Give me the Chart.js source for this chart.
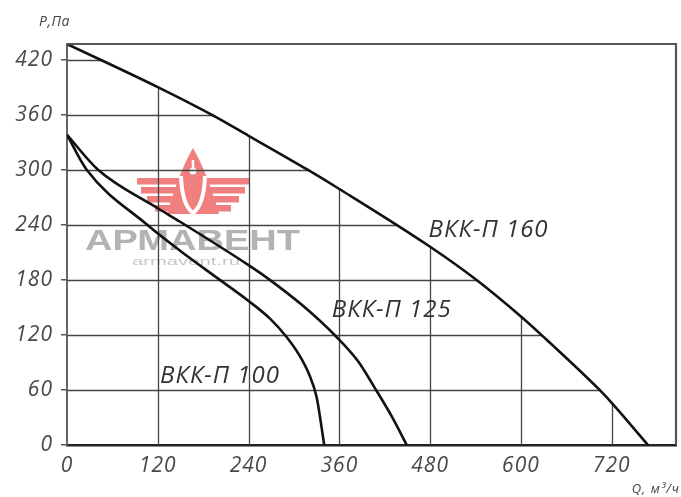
<!DOCTYPE html>
<html>
<head>
<meta charset="utf-8">
<title>ВКК-П</title>
<script src="https://cdn.jsdelivr.net/npm/chart.js@4/dist/chart.umd.min.js"></script>
<style>
  html, body { margin: 0; padding: 0; background: #fff; }
  #wrap { width: 681px; height: 497px; }
</style>
</head>
<body>
<div id="wrap"><canvas id="chart" width="681" height="497"></canvas></div>
<script>
// Axis ticks
const flowTicks = [0, 120, 240, 360, 480, 600, 720];
const pressureTicks = [0, 60, 120, 180, 240, 300, 360, 420];

// Fan curves: Q (m³/h) against P (Pa)
const q160 = [0, 120, 191, 240, 318, 360, 480, 541, 600, 627, 704, 720, 768];
const p160 = [437, 390, 360, 337, 300, 279, 216, 180, 140, 120, 60, 46, 0];

const q125 = [0, 41, 120, 150, 240, 268, 310, 356, 385, 407, 430, 449];
const p125 = [338, 300, 258, 243, 196, 180, 153, 118, 91, 62, 30, 0];

const q100 = [0, 26, 106, 149, 202, 240, 268, 290, 307, 320, 330, 340];
const p100 = [338, 300, 240, 212, 180, 157, 138, 118, 98, 77, 52, 0];

const curveNames = ['ВКК-П 160', 'ВКК-П 125', 'ВКК-П 100'];

// Where each curve name sits, in axis units (left edge, baseline)
const nameSpots = [
  { q: 478, p: 227 },
  { q: 350, p: 140 },
  { q: 123, p: 68 }
];

const FONT = '"Open Sans", "DejaVu Sans", sans-serif';

function points(qs, ps) {
  return qs.map((q, i) => ({ x: q, y: ps[i] }));
}

function curve(qs, ps) {
  return {
    data: points(qs, ps),
    borderColor: '#111',
    borderWidth: 2.6,
    pointRadius: 0,
    cubicInterpolationMode: 'monotone',
    fill: false
  };
}

// Brand mark drawn faintly behind the grid
function drawBrand(ctx) {
  const cx = 193;
  ctx.save();
  ctx.letterSpacing = '0px';
  ctx.fillStyle = 'rgb(240,128,128)';
  // wings
  const rows = [[178, 137], [187, 141], [196, 147], [205, 155]];
  for (const [yy, xo] of rows) {
    ctx.fillRect(xo, yy, cx - 10 - xo, 6.5);
    ctx.fillRect(cx + 10, yy, (2 * cx - xo) - (cx + 10), 6.5);
  }
  // central peak
  ctx.beginPath();
  ctx.moveTo(cx, 148);
  ctx.quadraticCurveTo(cx + 14, 172, cx + 26, 214);
  ctx.lineTo(cx - 26, 214);
  ctx.quadraticCurveTo(cx - 14, 172, cx, 148);
  ctx.closePath();
  ctx.fill();
  // white inner drop
  ctx.strokeStyle = '#fff';
  ctx.fillStyle = '#fff';
  ctx.lineWidth = 2.5;
  ctx.beginPath();
  ctx.moveTo(cx, 160);
  ctx.lineTo(cx, 168);
  ctx.stroke();
  ctx.beginPath();
  ctx.arc(cx, 171, 3.5, 0, Math.PI * 2);
  ctx.fill();
  ctx.lineWidth = 4;
  ctx.beginPath();
  ctx.moveTo(cx - 12, 176);
  ctx.quadraticCurveTo(cx - 11, 205, cx, 213);
  ctx.quadraticCurveTo(cx + 11, 205, cx + 12, 176);
  ctx.stroke();

  // name
  ctx.fillStyle = '#b3b3b3';
  ctx.font = 'bold 30px "Liberation Sans", Arial, sans-serif';
  ctx.textBaseline = 'alphabetic';
  ctx.textAlign = 'center';
  const word = 'АРМАВЕНТ';
  const w = ctx.measureText(word).width;
  ctx.save();
  ctx.translate(192.5, 250);
  ctx.scale(215 / w, 1);
  ctx.fillText(word, 0, 0);
  ctx.restore();

  ctx.fillStyle = '#c6c6c6';
  ctx.font = '11px "Liberation Sans", Arial, sans-serif';
  const site = 'armavent.ru';
  const sw = ctx.measureText(site).width;
  ctx.save();
  ctx.translate(186, 265);
  ctx.scale(108 / sw, 1);
  ctx.fillText(site, 0, 0);
  ctx.restore();
  ctx.restore();
}

// Grid only under the largest curve
const underCurveGrid = {
  id: 'underCurveGrid',
  beforeDraw(chart) {
    // slightly airy lettering for the axis numbers
    chart.ctx.letterSpacing = '1px';
  },
  beforeDatasetsDraw(chart) {
    const { ctx, chartArea: a, scales: { x, y } } = chart;
    drawBrand(ctx);
    const line = chart.getDatasetMeta(0).dataset;
    ctx.save();
    if (line.updateControlPoints) line.updateControlPoints(a, 'x');
    ctx.beginPath();
    line.path(ctx);
    ctx.lineTo(x.getPixelForValue(0), y.getPixelForValue(0));
    ctx.closePath();
    ctx.clip();
    ctx.strokeStyle = '#454545';
    ctx.lineWidth = 1.3;
    for (const v of pressureTicks) {
      if (v === 0) continue;
      const py = Math.round(y.getPixelForValue(v)) + 0.5;
      ctx.beginPath();
      ctx.moveTo(a.left, py);
      ctx.lineTo(a.right, py);
      ctx.stroke();
    }
    for (const v of flowTicks) {
      if (v === 0) continue;
      const px = Math.round(x.getPixelForValue(v)) + 0.5;
      ctx.beginPath();
      ctx.moveTo(px, a.top);
      ctx.lineTo(px, a.bottom);
      ctx.stroke();
    }
    ctx.restore();
  },
  afterDatasetsDraw(chart) {
    const { ctx, chartArea: a, scales: { x, y } } = chart;
    ctx.save();
    // frame: top and right edges
    ctx.strokeStyle = '#555';
    ctx.lineWidth = 2.2;
    ctx.beginPath();
    ctx.moveTo(a.left, a.top);
    ctx.lineTo(a.right, a.top);
    ctx.lineTo(a.right, a.bottom);
    ctx.stroke();

    // curve names
    ctx.fillStyle = '#333';
    ctx.font = 'italic 24px ' + FONT;
    ctx.letterSpacing = '1px';
    ctx.textAlign = 'left';
    ctx.textBaseline = 'alphabetic';
    curveNames.forEach((name, i) => {
      ctx.fillText(name, x.getPixelForValue(nameSpots[i].q), y.getPixelForValue(nameSpots[i].p));
    });

    // axis titles
    ctx.fillStyle = '#444';
    ctx.font = 'italic 14px ' + FONT;
    ctx.letterSpacing = '0.5px';
    ctx.fillText('Р,Па', 39, 26);
    ctx.font = 'italic 13px ' + FONT;
    ctx.letterSpacing = '1px';
    ctx.textAlign = 'right';
    ctx.fillText('Q, м³/ч', 680, 493);
    ctx.restore();
  },
  afterDraw(chart) {
    chart.ctx.letterSpacing = '0px';
  }
};

function build() {
  const tickFont = { family: FONT, style: 'italic', size: 21 };
  new Chart(document.getElementById('chart'), {
    type: 'line',
    data: {
      datasets: [curve(q160, p160), curve(q125, p125), curve(q100, p100)]
    },
    options: {
      responsive: false,
      animation: false,
      events: [],
      layout: { padding: { top: 44, right: 5, left: 0, bottom: 0 } },
      plugins: { legend: { display: false }, tooltip: { enabled: false } },
      scales: {
        x: {
          type: 'linear',
          min: 0,
          max: 805,
          afterBuildTicks: s => { s.ticks = flowTicks.map(v => ({ value: v })); },
          afterFit: s => { s.height = 52; },
          grid: { display: true, drawOnChartArea: false, drawTicks: false },
          border: { display: true, color: '#222', width: 2.5 },
          ticks: { padding: 8, font: tickFont, color: '#484848', maxRotation: 0, autoSkip: false }
        },
        y: {
          type: 'linear',
          min: 0,
          max: 437,
          afterBuildTicks: s => { s.ticks = pressureTicks.map(v => ({ value: v })); },
          afterFit: s => { s.width = 67; },
          grid: { display: true, drawOnChartArea: false, drawTicks: true, tickLength: 6, color: '#555', lineWidth: 1.5 },
          border: { display: true, color: '#666', width: 2 },
          ticks: { padding: 8, font: tickFont, color: '#484848', autoSkip: false }
        }
      }
    },
    plugins: [underCurveGrid]
  });
}

const ready = document.fonts && document.fonts.load
  ? Promise.all([
      document.fonts.load('italic 20px "Open Sans"'),
      document.fonts.load('bold 30px "Liberation Sans"')
    ]).catch(() => null)
  : Promise.resolve();
ready.then(build);
</script>
</body>
</html>
